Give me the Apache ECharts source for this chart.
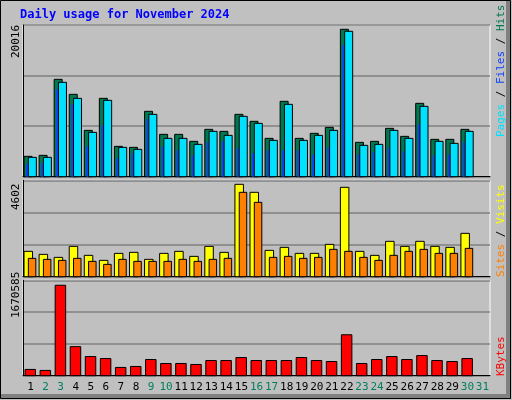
<!DOCTYPE html>
<html><head><meta charset="utf-8">
<script src="https://cdn.jsdelivr.net/npm/echarts@6/dist/echarts.min.js"></script>
<style>html,body{margin:0;padding:0;background:#fff}#c{width:512px;height:400px}</style>
</head><body><div id="c"></div>
<script>
const days = ['1','2','3','4','5','6','7','8','9','10','11','12','13','14','15','16','17','18','19','20','21','22','23','24','25','26','27','28','29','30','31'];
const weekend = ['2','3','9','10','16','17','23','24','30','31'];
const hits = [2684,2816,12848,10868,6116,10340,4004,3872,8624,5588,5588,4664,6248,5984,8228,7304,5060,9944,5060,5720,6512,19448,4532,4664,6380,5324,9680,4928,4928,6248,0];
const files = [2552,2552,12452,10340,5852,10076,3872,3608,8228,5060,5060,4268,5984,5456,7964,7040,4796,9548,4796,5456,6116,19184,4136,4268,6116,5060,9284,4664,4400,5984,0];
const pages = [1672,1804,11528,9548,4004,6776,2420,3080,7568,4004,3476,2816,4532,4664,3740,3080,3476,3476,3476,2948,3872,17336,2948,3212,3740,3344,6908,2816,2948,4532,0];
const visits = [1210,1067,923,1449,1019,780,1114,1162,828,1114,1210,971,1449,1162,4410,4028,1258,1401,1114,1114,1544,4267,1210,1019,1688,1449,1688,1449,1401,2070,0];
const sites = [876,828,780,876,732,589,828,732,732,732,828,732,828,876,4028,3550,923,971,876,923,1305,1210,923,780,1019,1210,1305,1114,1114,1353,0];
const kbytes = [109820,92480,1583720,508640,335240,300560,144500,161840,283220,213860,213860,196520,265880,265880,317900,265880,265880,265880,317900,265880,248540,716720,213860,283220,335240,283220,352580,265880,248540,300560,0];
const maxHits = 20016, maxVisits = 4602, maxKB = 1670585;

function bar(gi, data, off, w, color, stroke) {
  return {type:'custom', xAxisIndex:gi, yAxisIndex:gi, data:data.map((v,i)=>[i,v]),
    renderItem:(p,api)=>{
      if(!api.value(1)) return null;
      const b=api.coord([api.value(0),0]), t=api.coord([api.value(0),api.value(1)]);
      return {type:'rect', shape:{x:b[0]+off, y:t[1], width:w, height:b[1]-t[1]},
        style:{fill:color, stroke:stroke?'#000':null, lineWidth:1}};
    }};
}
const grids=[{left:23,right:22,top:25,height:151.7},{left:23,right:22,top:180.3,height:96.4},{left:23,right:22,top:280.3,height:95.4}];
const maxes=[maxHits,maxVisits,maxKB];
const chart=echarts.init(document.getElementById('c'));
chart.setOption({
  backgroundColor:'#c0c0c0', animation:false,
  grid:grids.map(g=>Object.assign({show:true,borderColor:'#fff',borderWidth:1,backgroundColor:'#c0c0c0'},g)),
  xAxis:[0,1,2].map(i=>({type:'category',gridIndex:i,data:days,axisTick:{show:false},
    axisLine:{show:true,lineStyle:{color:'#000'}},
    axisLabel:{show:i===2,margin:6,interval:0,fontFamily:'DejaVu Sans Mono',fontSize:11,
      color:(v)=>weekend.includes(v)?'#008060':'#000'}})),
  yAxis:[0,1,2].map(i=>({type:'value',gridIndex:i,min:0,max:maxes[i],interval:maxes[i]/3,
    axisLabel:{show:false},axisLine:{show:true,lineStyle:{color:'#000'}},axisTick:{show:false},
    splitLine:{show:true,lineStyle:{color:'#808080',width:1.5}}})),
  series:[
    bar(0,hits,-6.5,8,'#007850',true),
    bar(0,pages,-4.5,2,'#1040ff',false),
    bar(0,files,-2.2,8,'#00e0ff',true),
    bar(1,visits,-6.5,8.5,'#ffff00',true),
    bar(1,sites,-2.2,7.5,'#ff8000',true),
    bar(2,kbytes,-5.5,10.5,'#ff0000',true)
  ],
  graphic:[
    {type:'rect',shape:{x:0.5,y:0.5,width:510,height:398},style:{fill:null,stroke:'#000',lineWidth:1},z:10},
    {type:'rect',shape:{x:1,y:394,width:510,height:5},style:{fill:'#808080'},z:9},
    {type:'rect',shape:{x:506,y:1,width:5,height:398},style:{fill:'#808080'},z:9},
    {type:'text',x:20,y:9,style:{text:'Daily usage for November 2024',fill:'#0000ff',font:'bold 12px "DejaVu Sans Mono"'}},
    {type:'text',x:11,y:58,rotation:Math.PI/2,style:{text:'20016',fill:'#000',font:'11px "DejaVu Sans Mono"'}},
    {type:'text',x:11,y:210,rotation:Math.PI/2,style:{text:'4602',fill:'#000',font:'11px "DejaVu Sans Mono"'}},
    {type:'text',x:11,y:318,rotation:Math.PI/2,style:{text:'1670585',fill:'#000',font:'11px "DejaVu Sans Mono"'}},
    {type:'text',x:496,y:137,rotation:Math.PI/2,style:{rich:{a:{fill:'#00e0ff'},b:{fill:'#1040ff'},c:{fill:'#007850'},s:{fill:'#000'}},
      text:'{a|Pages} {s|/} {b|Files} {s|/} {c|Hits}',font:'11px "DejaVu Sans Mono"'}},
    {type:'text',x:496,y:277,rotation:Math.PI/2,style:{rich:{a:{fill:'#ff8000'},b:{fill:'#ffff00'},s:{fill:'#000'}},
      text:'{a|Sites} {s|/} {b|Visits}',font:'11px "DejaVu Sans Mono"'}},
    {type:'text',x:496,y:376,rotation:Math.PI/2,style:{text:'KBytes',fill:'#ff0000',font:'11px "DejaVu Sans Mono"'}}
  ]
});
</script></body></html>
